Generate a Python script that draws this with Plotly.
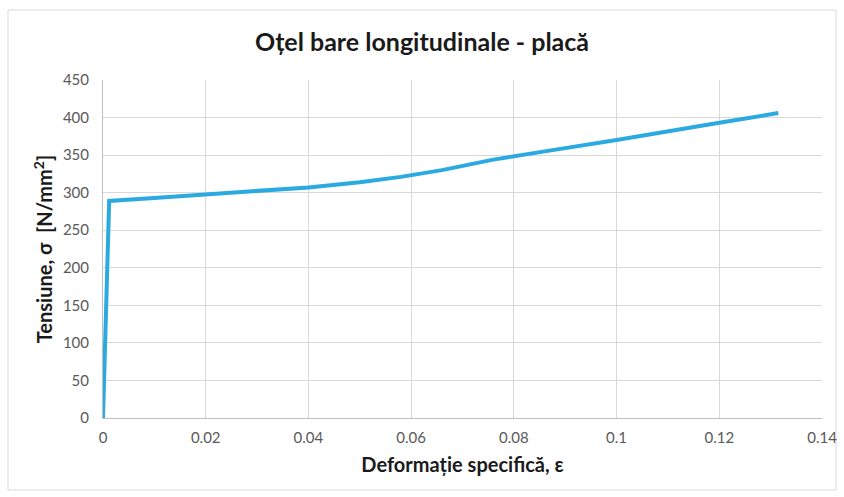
import plotly.graph_objects as go

# Stress-strain curve of the longitudinal reinforcement steel
strain = [0, 0.0012, 0.01, 0.02, 0.03, 0.04, 0.05, 0.058, 0.066, 0.076, 0.086, 0.1, 0.12, 0.1315]
stress = [0, 289, 293, 298, 303, 307, 314, 321, 330, 344, 355, 370, 393, 406]

x_ticks = [0, 0.02, 0.04, 0.06, 0.08, 0.1, 0.12, 0.14]
x_tick_text = ["0", "0.02", "0.04", "0.06", "0.08", "0.1", "0.12", "0.14"]
y_ticks = [0, 50, 100, 150, 200, 250, 300, 350, 400, 450]

FONT = "Lato"

fig = go.Figure()
fig.add_trace(go.Scatter(
    x=strain, y=stress, mode="lines",
    line=dict(color="#2BAAE2", width=4),
    showlegend=False,
))

fig.update_layout(
    width=844, height=497,
    margin=dict(l=103, r=22, t=80, b=79),
    paper_bgcolor="white", plot_bgcolor="white",
    font=dict(family=FONT, color="#595959", size=15),
    title=dict(
        text="<b>Oțel bare longitudinale - placă</b>",
        x=0.5, xanchor="center", y=0.915, yanchor="middle",
        font=dict(family=FONT, size=25, color="#1a1a1a"),
    ),
    xaxis=dict(
        range=[0, 0.14], tickvals=x_ticks, ticktext=x_tick_text,
        showgrid=True, gridcolor="#d9d9d9", gridwidth=1,
        showline=True, linecolor="#bfbfbf", linewidth=1,
        zeroline=False, ticks="", ticklen=0, ticklabelstandoff=6,
        automargin=False,
        title=dict(text="<b>Deformație specifică, ε</b>",
                   font=dict(family=FONT, size=20, color="#1a1a1a"), standoff=12),
    ),
    yaxis=dict(
        range=[0, 450], tickvals=y_ticks,
        showgrid=True, gridcolor="#d9d9d9", gridwidth=1,
        showline=True, linecolor="#bfbfbf", linewidth=1,
        zeroline=False, ticks="", ticklen=0, ticklabelstandoff=10,
        automargin=False,
        title=dict(text="<b>Tensiune, σ  [N/mm<sup>2</sup>]</b>",
                   font=dict(family=FONT, size=20, color="#1a1a1a"), standoff=4),
    ),
    shapes=[dict(
        type="rect", xref="paper", yref="paper",
        x0=(8 - 103) / 719, x1=(836 - 103) / 719,
        y0=(418 - 490) / 338, y1=(418 - 10) / 338,
        line=dict(color="#d9d9d9", width=1), fillcolor="rgba(0,0,0,0)", layer="below",
    )],
)

fig.write_html("out.html")
